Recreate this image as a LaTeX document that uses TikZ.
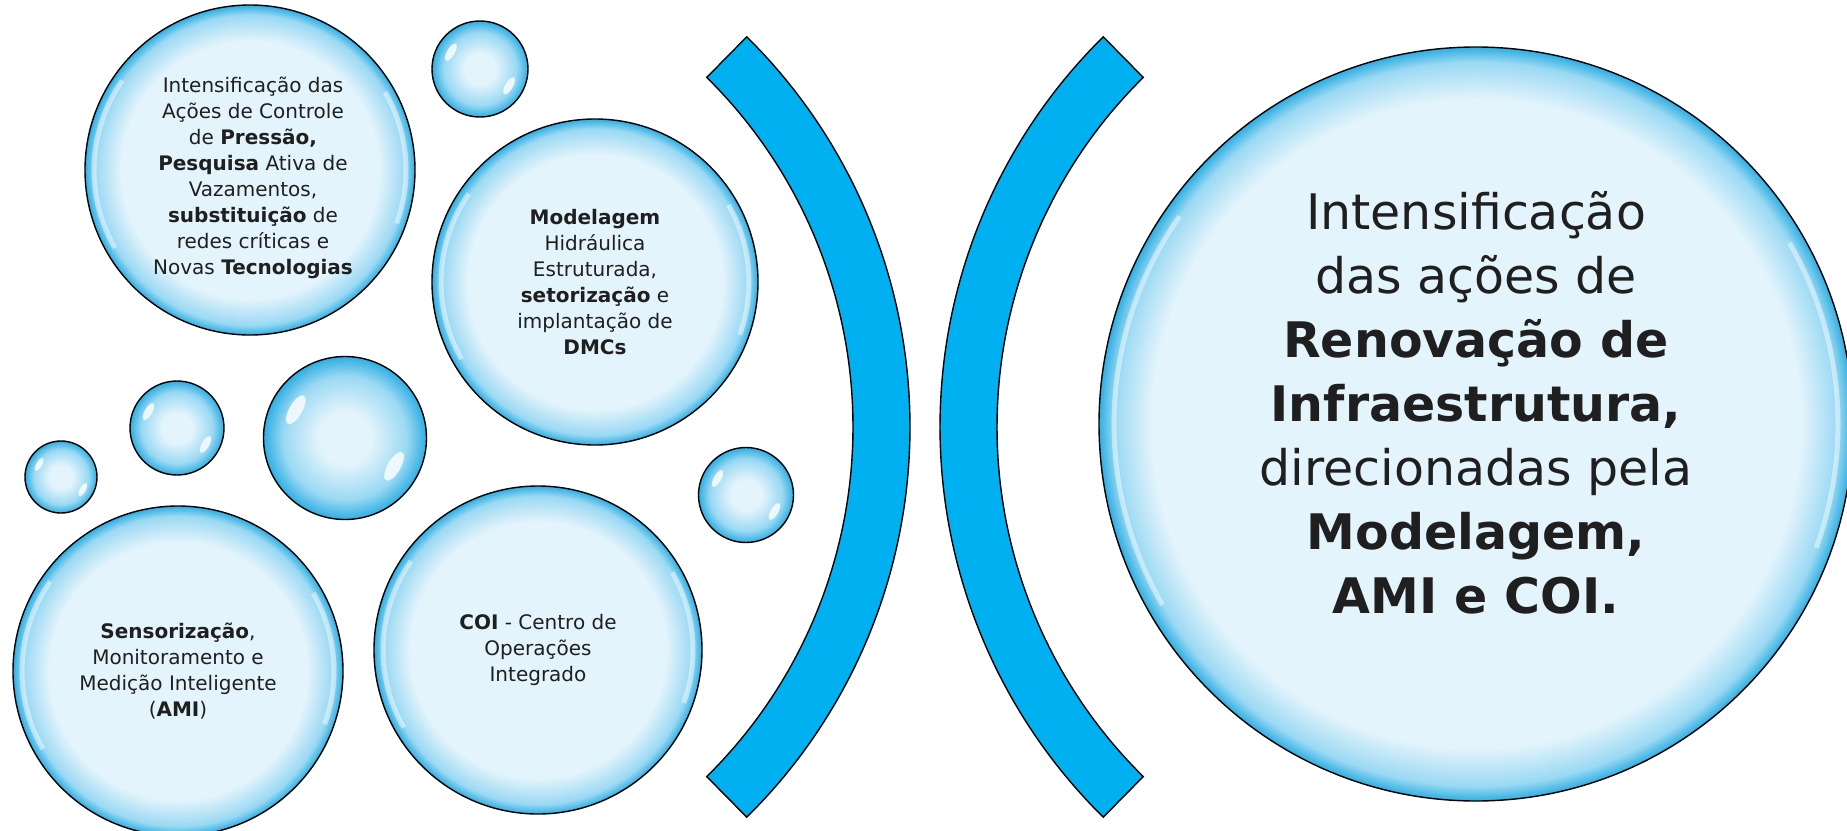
\documentclass[tikz,border=0pt]{standalone}
\usepackage{fontspec}
\setmainfont{DejaVu Sans}
\usetikzlibrary{calc}

\definecolor{bubin}{HTML}{E4F4FC}
\definecolor{bubmid}{HTML}{9AD9F3}
\definecolor{bubedge}{HTML}{2FAEE2}
\definecolor{barblue}{HTML}{00B0F0}

\pgfdeclareradialshading{hugebubble}{\pgfpoint{0bp}{0bp}}{color(0bp)=(bubin); color(21.5bp)=(bubin); color(24bp)=(bubmid); color(25bp)=(bubedge); color(50bp)=(bubedge)}
\pgfdeclareradialshading{bigbubble}{\pgfpoint{0bp}{0bp}}{color(0bp)=(bubin); color(19.5bp)=(bubin); color(23.5bp)=(bubmid); color(25bp)=(bubedge); color(50bp)=(bubedge)}
\pgfdeclareradialshading{smallbubble}{\pgfpoint{0bp}{0bp}}{color(0bp)=(bubin); color(8bp)=(bubin); color(19bp)=(bubmid); color(25bp)=(bubedge); color(50bp)=(bubedge)}

\begin{document}
\begin{tikzpicture}[
    x = 1pt, y = -1pt,
    bubble/.style={circle, draw, line width=1.4pt, inner sep=0pt, shade, shading=bigbubble,
        align=center, text=black!88, font=\fontsize{20}{26}\selectfont},
    drop/.style={circle, draw, line width=1.4pt, inner sep=0pt, shade, shading=smallbubble},
    bar/.style={draw, line width=1.4pt, fill=barblue},
    glint/.style={white, opacity=.8}
]
    \useasboundingbox (0,0) rectangle (1847,830);

    % brackets
    \coordinate (lc) at (362,427);
    \coordinate (rc) at (1488,427);
    \path[bar] ($(lc)+(-45.4:548)$) arc[start angle=-45.4, end angle=45.4, radius=548]
        -- ($(lc)+(45.4:491)$) arc[start angle=45.4, end angle=-45.4, radius=491] -- cycle;
    \path[bar] ($(rc)+(134.6:548)$) arc[start angle=134.6, end angle=225.4, radius=548]
        -- ($(rc)+(225.4:491)$) arc[start angle=225.4, end angle=134.6, radius=491] -- cycle;

    % small drops
    \node[drop, minimum size=96pt] (d1) at (480,69) {};
    \node[drop, minimum size=94pt] (d2) at (177,428) {};
    \node[drop, minimum size=72pt] (d3) at (61,477) {};
    \node[drop, minimum size=163pt] (d4) at (345,438) {};
    \node[drop, minimum size=95pt] (d5) at (746,495) {};
    \foreach \d/\r in {d1/48, d2/47, d3/36, d4/81, d5/47} {
        \fill[glint] ($(\d)+(210:.7*\r)$) ellipse[x radius=.08*\r, y radius=.2*\r, rotate=-30];
        \fill[glint] ($(\d)+(30:.7*\r)$) ellipse[x radius=.08*\r, y radius=.2*\r, rotate=-30];
    }

    % big bubbles
    \node[bubble, minimum size=330pt] (pressao) at (250,170) {};
    \node[bubble, minimum size=326pt] (modelagem) at (595,282)
        {\textbf{Modelagem}\\Hidráulica\\Estruturada,\\\textbf{setorização} e\\implantação de\\\textbf{DMCs}};
    \node[bubble, minimum size=330pt] (sensor) at (178,671)
        {\textbf{Sensorização},\\Monitoramento e\\Medição Inteligente\\(\textbf{AMI})};
    \node[bubble, minimum size=328pt] (coi) at (538,650)
        {\textbf{COI} - Centro de\\Operações\\Integrado};
    \node[bubble, minimum size=754pt, shading=hugebubble] (renovacao) at (1476,424) {};
    \foreach \b/\r in {pressao/156, modelagem/154, sensor/156, coi/155, renovacao/362} {
        \draw[glint, opacity=.45, line width=5pt] ($(\b)+(150:\r)$) arc[start angle=150, end angle=215, radius=\r];
        \draw[glint, opacity=.45, line width=5pt] ($(\b)+(-30:\r)$) arc[start angle=-30, end angle=20, radius=\r];
    }
    \node[align=center, text=black!88, font=\fontsize{20}{26}\selectfont] (pressaotext) at ($(pressao)+(3,8)$)
        {Intensificação das\\Ações de Controle\\de \textbf{Pressão,}\\\textbf{Pesquisa} Ativa de\\Vazamentos,\\\textbf{substituição} de\\redes críticas e\\Novas \textbf{Tecnologias}};
    \node[align=center, text=black!88, font=\fontsize{49}{64}\selectfont] (renovacaotext) at ($(renovacao)+(0,-21)$)
        {Intensificação\\das ações de\\\textbf{Renovação de}\\\textbf{Infraestrutura,}\\direcionadas pela\\\textbf{Modelagem,}\\\textbf{AMI e COI.}};
\end{tikzpicture}
\end{document}
